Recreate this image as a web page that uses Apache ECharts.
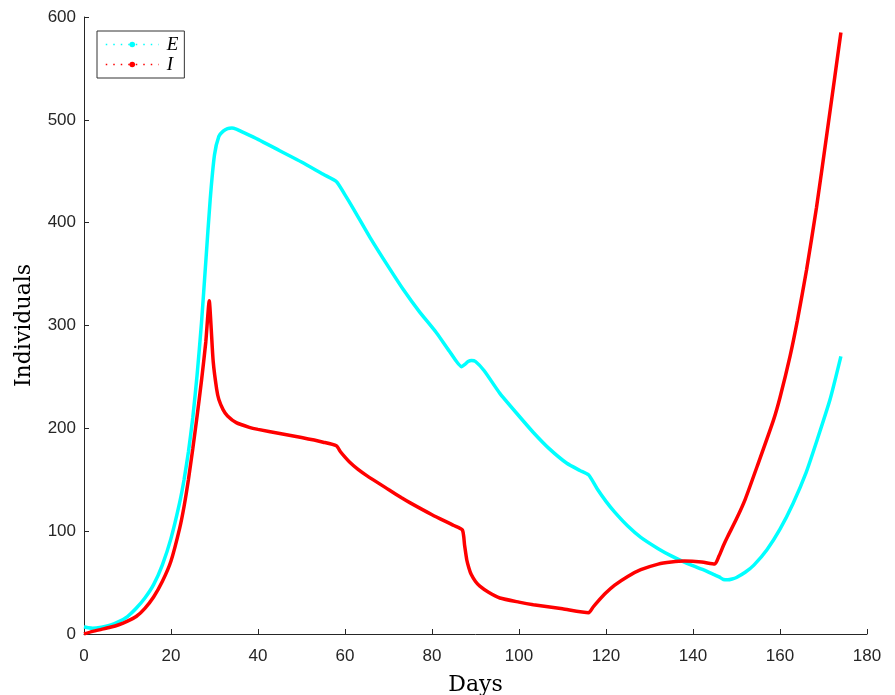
<!DOCTYPE html>
<html>
<head>
<meta charset="utf-8">
<script src="https://cdn.jsdelivr.net/npm/echarts@6/dist/echarts.min.js"></script>
<style>html,body{margin:0;padding:0;background:#fff;}#c{width:895px;height:695px;}</style>
</head>
<body>
<div id="c"></div>
<script>
const xTicks = [0, 20, 40, 60, 80, 100, 120, 140, 160, 180];
const yTicks = [0, 100, 200, 300, 400, 500, 600];

const eDays = [0,1,2,4,6,8,10,12,14,16,18,20,22,23,24,25,26,27,28,29,30,31,32,33,34,35,36,40,45,50,55,58,60,62,65.7,70,73.4,77,81.1,84,86.8,87.5,88.3,89.1,90,92,95.6,100,103.3,107,111,114,116,118,120,122,125,128,132,135,138.5,142,145,146,147,148,149,150,152,154,157,160,163,166,168.4,171.5,174];
const eVals = [7,6,5.5,6.5,8.5,12,17,25,35,48,67,93,128,150,177,210,252,302,362,422,466,484,489,491.5,492,491,489,481,470,459,447,440,427,413,386,357,335,314,292.5,275,260,262,265,266,265,256,234,212,196,180,166,159,154.7,141,129,118.5,105,94,83,76,69,63,57.4,55.5,53,52.7,53.5,55,60,67,82,102,127,157,187,228,270];

const iDays = [0,2,4,6,8,10,12,14,16,18,20,22,23,24,25,26,27,28,28.8,29.2,29.7,30.5,31,32,33,35,38,40,45,50,55,58,59,60,61.1,63,65,70,73,75,80,85,87,87.5,88,88.5,89,90,91,93,95.6,100,103.3,110,116,117,118,120,122,125,128,132,135,138,142,145,146,147,148,150,152,155,158.5,160,162.3,164,166.1,168.4,170.7,172.6,174];
const iVals = [0,2.5,4.5,6.5,9,12.5,17,25,36,51,71,103,124,150,180,212,246,284,324,300,265,238,228,218,212,205.5,201,199,195,191,186.5,183,177,172,167,160,154,140.5,132.5,127.5,116,105.5,101,86,72,64,58,51,46.5,40.5,35,31,28.5,24.5,20.7,26,31,40,47.5,56,62.5,68,70,71,70,68,76,86,95,112,131,166,208,230,270,305,354,415,484,542,585];

const seriesNames = ['E', 'I'];
const seriesColors = ['#00FFFF', '#FF0000'];

const pairs = (xs, ys) => xs.map((x, k) => [x, ys[k]]);

const chart = echarts.init(document.getElementById('c'), null, {renderer: 'canvas'});
const axisCol = '#262626';
chart.setOption({
  animation: false,
  backgroundColor: '#fff',
  grid: {left: 84, right: 28, top: 17, bottom: 61, containLabel: false, outerBoundsMode: 'none'},
  legend: {
    orient: 'vertical',
    left: 97, top: 31,
    padding: [4, 6, 4, 8],
    itemGap: 1,
    itemWidth: 53,
    itemHeight: 7,
    borderColor: '#333',
    borderWidth: 1,
    backgroundColor: '#fff',
    lineStyle: {type: [1.5, 6], width: 1.5},
    textStyle: {fontFamily: 'Liberation Serif', fontStyle: 'italic', fontSize: 19, color: '#000', padding: [0, 0, 0, 3]},
    data: seriesNames
  },
  xAxis: {
    type: 'value', min: 0, max: 180, interval: 20,
    name: 'Days', nameLocation: 'middle', nameGap: 40,
    nameTextStyle: {fontFamily: 'DejaVu Serif', fontSize: 22, color: '#000'},
    axisLine: {show: true, lineStyle: {color: axisCol, width: 1}},
    axisTick: {show: true, inside: true, length: 5, lineStyle: {color: axisCol}},
    axisLabel: {fontFamily: 'Liberation Sans', fontSize: 17, color: axisCol, margin: 14,
      formatter: v => xTicks.includes(v) ? String(v) : ''},
    splitLine: {show: false}
  },
  yAxis: {
    type: 'value', min: 0, max: 600, interval: 100,
    name: 'Individuals', nameLocation: 'middle', nameGap: 49,
    nameTextStyle: {fontFamily: 'DejaVu Serif', fontSize: 22, color: '#000'},
    axisLine: {show: true, lineStyle: {color: axisCol, width: 1}},
    axisTick: {show: true, inside: true, length: 5, lineStyle: {color: axisCol}},
    axisLabel: {fontFamily: 'Liberation Sans', fontSize: 17, color: axisCol, margin: 8,
      formatter: v => yTicks.includes(v) ? String(v) : ''},
    splitLine: {show: false}
  },
  series: [
    {name: seriesNames[0], type: 'line', data: pairs(eDays, eVals), smooth: 0.2,
     symbol: 'circle', symbolSize: 4, showSymbol: false, color: seriesColors[0],
     lineStyle: {width: 3.5, color: seriesColors[0]}, emphasis: {disabled: true}, z: 2},
    {name: seriesNames[1], type: 'line', data: pairs(iDays, iVals), smooth: 0.2,
     symbol: 'circle', symbolSize: 4, showSymbol: false, color: seriesColors[1],
     lineStyle: {width: 3.5, color: seriesColors[1]}, emphasis: {disabled: true}, z: 3}
  ]
});
</script>
</body>
</html>
